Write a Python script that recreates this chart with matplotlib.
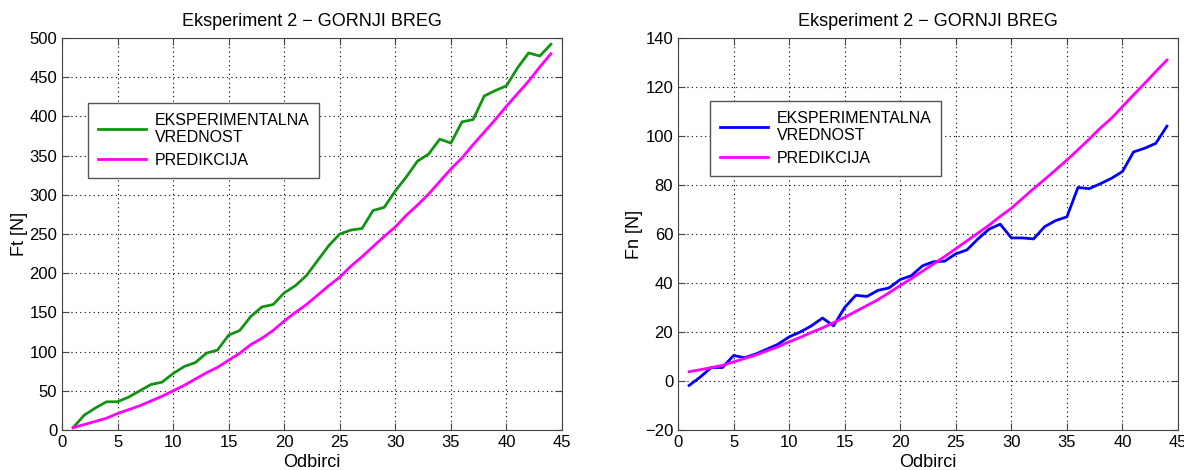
import matplotlib.pyplot as plt
import numpy as np

plt.rcParams['font.family'] = ['Liberation Sans', 'DejaVu Sans']

# odbirci (sample index)
x = np.arange(1, 45)

# Ft - eksperimentalna vrednost i predikcija
ft_exp = [3, 19, 28, 36, 36, 42, 50, 58, 61, 72, 81, 86, 98, 102, 121, 127, 145, 157, 160, 175,
          184, 197, 216, 235, 250, 255, 257, 280, 284, 305, 323, 343, 352, 371, 366, 393, 396, 426,
          433, 439, 462, 481, 477, 492]
ft_pred = [3, 7, 11, 15, 21, 26, 31, 37, 43, 50, 57, 65, 73, 80, 89, 98, 109, 117, 127, 139,
           150, 160, 172, 184, 195, 209, 221, 234, 247, 259, 274, 287, 301, 317, 333, 347, 364, 380,
           396, 413, 429, 445, 463, 480]

# Fn - eksperimentalna vrednost i predikcija
fn_exp = [-1.8, 1.6, 5.5, 5.5, 10.4, 9.5, 11, 13, 15, 18, 20, 22.5, 25.7, 22.5, 30, 35, 34.5, 37,
          38, 41.4, 43, 47, 48.7, 48.9, 51.9, 53.5, 58, 62, 64, 58.4, 58.4, 58, 63, 65.5, 67, 79,
          78.5, 80.5, 82.7, 85.5, 93.5, 95, 97, 104]
fn_pred = [3.8, 4.6, 5.5, 6.4, 7.8, 9.2, 10.6, 12.3, 14, 16, 17.8, 19.8, 21.7, 23.8, 26, 28.4,
           30.8, 33.2, 36, 39, 41.8, 44.8, 47.8, 50.8, 54, 57.2, 60.4, 63.6, 67.2, 70.5, 74.5, 78.5,
           82.3, 86.2, 90.2, 94.4, 98.7, 103.2, 107.2, 112, 116.8, 121.5, 126.3, 131]

title = 'Eksperiment 2 \u2212 GORNJI BREG'
lab_exp = 'EKSPERIMENTALNA\nVREDNOST'
lab_pred = 'PREDIKCIJA'

fig = plt.figure(figsize=(11.84, 4.70), dpi=100)
ax1 = fig.add_axes([62/1184, 40/470, 500/1184, 392/470])
ax2 = fig.add_axes([678/1184, 40/470, 500/1184, 392/470])

def style(ax, yticks, ylabel, legpos):
    ax.set_xlim(0, 45)
    ax.set_xticks(np.arange(0, 46, 5))
    ax.set_ylim(yticks[0], yticks[-1])
    ax.set_yticks(yticks)
    ax.grid(True, linestyle=(0, (1, 3)), color='black', linewidth=0.8)
    ax.tick_params(direction='in', top=True, right=True, labelsize=12, length=5, color='#444444')
    for s in ax.spines.values():
        s.set_color('#444444')
    ax.set_title(title, fontsize=13, pad=9)
    ax.set_xlabel('Odbirci', fontsize=13, labelpad=3)
    ax.set_ylabel(ylabel, fontsize=13, labelpad=1)
    leg = ax.legend(loc='upper left', bbox_to_anchor=legpos, borderaxespad=0, fontsize=11.5,
                    fancybox=False, framealpha=1, edgecolor='#555555', handlelength=3.0,
                    handletextpad=0.6, labelspacing=0.5, borderpad=0.6)
    leg.get_frame().set_linewidth(1.0)

ax1.plot(x, ft_exp, color='#129412', lw=2, label=lab_exp)
ax1.plot(x, ft_pred, color='#ff00ff', lw=2, label=lab_pred)
style(ax1, np.arange(0, 501, 50), 'Ft [N]', (0.052, 0.834))

ax2.plot(x, fn_exp, color='#0000ff', lw=2, label=lab_exp)
ax2.plot(x, fn_pred, color='#ff00ff', lw=2, label=lab_pred)
style(ax2, np.arange(-20, 141, 20), 'Fn [N]', (0.064, 0.839))

plt.savefig('out.png', dpi=100)
